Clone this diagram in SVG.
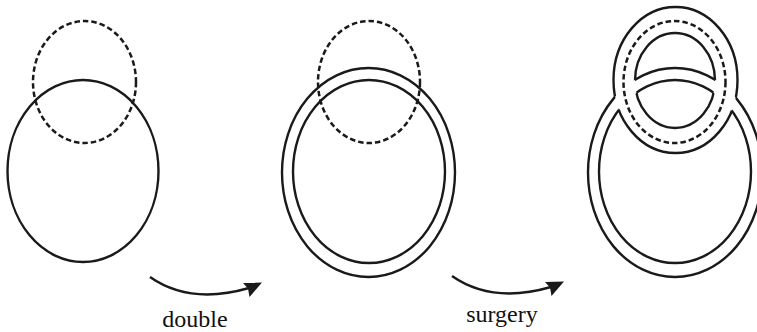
<svg xmlns="http://www.w3.org/2000/svg" width="757" height="332" viewBox="0 0 757 332">
<style>
.s{fill:none;stroke:#1a1a1a;stroke-width:2.4}
.d{fill:none;stroke:#1a1a1a;stroke-width:2.5;stroke-dasharray:5.5 3}
.t{font-family:"Liberation Serif","Times New Roman",serif;font-size:24px;fill:#111}
.ah{fill:#1a1a1a}
</style>
<defs>
<clipPath id="cA"><path clip-rule="evenodd" d="M0,0H757V332H0Z M588,172.5 a87,104.5 0 1,0 174,0 a87,104.5 0 1,0 -174,0Z M599,171.5 a76,91.5 0 1,0 152,0 a76,91.5 0 1,0 -152,0Z"/></clipPath>
<clipPath id="cB"><path clip-rule="evenodd" d="M0,0H757V332H0Z M613.5,80 a62,73 0 1,0 124,0 a62,73 0 1,0 -124,0Z M635,80.5 a40,47.5 0 1,0 80,0 a40,47.5 0 1,0 -80,0Z"/></clipPath>
</defs>
<g id="fig1">
<ellipse class="d" cx="84.5" cy="82" rx="51.5" ry="61"/>
<ellipse class="s" cx="83" cy="171" rx="75.5" ry="91"/>
</g>
<g id="fig2">
<ellipse class="d" cx="369" cy="82" rx="51" ry="61"/>
<ellipse class="s" cx="368.5" cy="172.5" rx="86.5" ry="104.5"/>
<ellipse class="s" cx="369" cy="171.5" rx="76" ry="91.5"/>
</g>
<g id="fig3">
<g clip-path="url(#cA)">
<ellipse class="s" cx="675.5" cy="80" rx="62" ry="73"/>
<ellipse class="s" cx="675" cy="80.5" rx="40" ry="47.5"/>
</g>
<g clip-path="url(#cB)">
<ellipse class="s" cx="675" cy="172.5" rx="87" ry="104.5"/>
<ellipse class="s" cx="675" cy="171.5" rx="76" ry="91.5"/>
</g>
<ellipse class="d" cx="674.5" cy="82" rx="51" ry="61"/>
</g>
<g id="connectors">
<g id="arrow-double">
<path class="s" d="M150,277 Q190,305 249,288"/>
<path class="ah" d="M262,282.5 L243,283 L248,288.5 L249.5,297 Z"/>
</g>
<g id="arrow-surgery">
<path class="s" d="M452,276 Q492,304 551,287"/>
<path class="ah" d="M564,281.5 L545,282 L550,287.5 L551.5,296 Z"/>
</g>
</g>
<text class="t" x="195" y="327" text-anchor="middle">double</text>
<text class="t" x="502" y="322" text-anchor="middle">surgery</text>
</svg>
